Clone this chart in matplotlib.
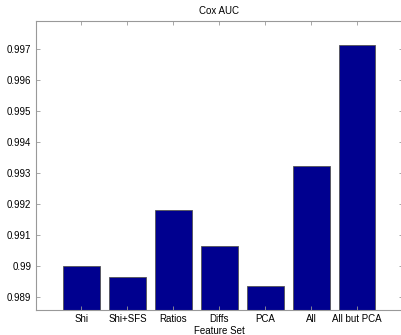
import matplotlib.pyplot as plt
import numpy as np

plt.rcParams['font.family'] = ['Liberation Sans', 'DejaVu Sans']

# data
feature_sets = ['Shi', 'Shi+SFS', 'Ratios', 'Diffs', 'PCA', 'All', 'All but PCA']
auc = [0.99000, 0.98965, 0.99182, 0.99065, 0.98935, 0.99322, 0.99713]
y_ticks = [0.989, 0.99, 0.991, 0.992, 0.993, 0.994, 0.995, 0.996, 0.997]
y_labels = ['0.989', '0.99', '0.991', '0.992', '0.993', '0.994', '0.995', '0.996', '0.997']

fig = plt.figure(figsize=(4.01, 3.35), dpi=100)
# axes box runs a little past the right edge, like the original crop
ax = fig.add_axes([35.5 / 401, 25 / 335, 367.5 / 401, 289 / 335])

x = np.arange(1, len(feature_sets) + 1)
ax.bar(x, auc, width=0.8, bottom=0, color='#00008F', edgecolor='#555555', linewidth=0.6)

ax.set_xlim(0, 8)
ax.set_ylim(0.98858, 0.99792)
ax.set_xticks(x)
ax.set_xticklabels(feature_sets)
ax.set_yticks(y_ticks)
ax.set_yticklabels(y_labels)

ax.tick_params(direction='in', length=3, width=0.6, color='#999999', labelsize=7,
               top=True, right=True, pad=3)
for s in ax.spines.values():
    s.set_color('#999999')
    s.set_linewidth(0.8)

ax.set_title('Cox AUC', fontsize=7, pad=5)
ax.set_xlabel('Feature Set', fontsize=7, labelpad=1)

fig.savefig('out.png', dpi=100)
